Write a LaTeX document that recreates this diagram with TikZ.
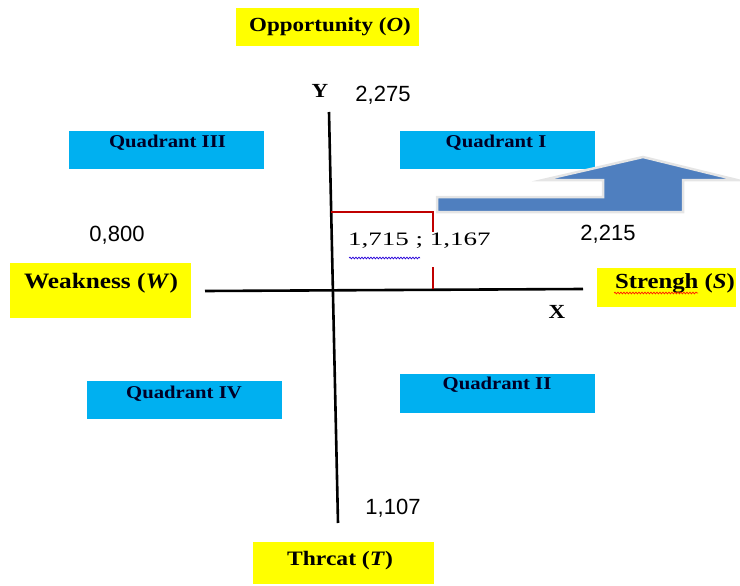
\documentclass[tikz,border=0pt]{standalone}
\usepackage{fontspec}
\setmainfont{Liberation Serif}
\newfontfamily\lblfont{Liberation Serif}[FakeStretch=1.15]
\newfontfamily\ptfont{Liberation Serif}[FakeStretch=1.42]
\newfontfamily\numfont{Liberation Sans}
\usetikzlibrary{decorations.pathmorphing}
\definecolor{ybox}{HTML}{FFFF00}
\definecolor{qblue}{HTML}{00B0F0}
\definecolor{arrblue}{HTML}{4F7FBF}
\definecolor{redl}{HTML}{C00000}
\tikzset{
  ylbox/.style={fill=ybox, draw=none, inner sep=0pt},
  qbox/.style={fill=qblue, draw=none, inner sep=0pt, minimum width=195pt, minimum height=38pt},
  lbl/.style={font=\lblfont\bfseries\fontsize{#1}{#1}\selectfont, inner sep=0pt, anchor=base},
  lbl/.default=20,
  qlbl/.style={font=\lblfont\bfseries\fontsize{18}{18}\selectfont, inner sep=0pt, anchor=base, text=black!85!blue},
  num/.style={font=\numfont\fontsize{22}{22}\selectfont, inner sep=0pt, anchor=base},
  axis/.style={line width=2.6pt, black},
  redline/.style={line width=2.4pt, redl},
  spell/.style={line width=0.7pt, decorate, decoration={snake, amplitude=0.9pt, segment length=3pt}},
}
\begin{document}
\begin{tikzpicture}[x=1pt,y=-1pt]
\useasboundingbox (0,0) rectangle (740,586);
% yellow boxes
\node[ylbox, minimum width=183pt, minimum height=38pt] (obox) at (327.5,27) {};
\node[lbl=20] (otext) at (330,32) {Opportunity (\textit{O})};
\node[ylbox, minimum width=181pt, minimum height=55pt] (wbox) at (100.5,290.5) {};
\node[lbl=22] (wtext) at (101,288) {Weakness (\textit{W})};
\node[ylbox, minimum width=139pt, minimum height=39pt] (sbox) at (666.5,287.5) {};
\node[lbl=21.5] (stext) at (675,288) {Strengh (\textit{S})};
\node[ylbox, minimum width=181pt, minimum height=42pt] (tbox) at (343.5,563) {};
\node[lbl=20.5] (ttext) at (340,565) {Thrcat (\textit{T})};
% quadrant boxes
\node[qbox] (q3) at (166.5,150) {};
\node[qlbl] (q3t) at (167.5,147) {Quadrant III};
\node[qbox] (q1) at (497,150) {};
\node[qlbl] (q1t) at (496,147) {Quadrant I};
\node[qbox] (q4) at (184.5,400) {};
\node[qlbl] (q4t) at (184,398) {Quadrant IV};
\node[qbox, minimum height=39pt] (q2) at (497.5,393.5) {};
\node[qlbl] (q2t) at (497,389) {Quadrant II};
% bent arrow
\filldraw[fill=arrblue, draw=gray!20, line width=2.5pt, line join=miter]
  (437,197) -- (603,197) -- (603,180) -- (543,180) -- (643,157) -- (737,180)
  -- (683,180) -- (683,212) -- (437,212) -- cycle;
% axes
\coordinate (ytop) at (329,112);
\coordinate (ybot) at (338,523);
\coordinate (xl) at (205,291);
\coordinate (xr) at (583,289);
\draw[axis] (ytop) -- (ybot);
\draw[axis] (xl) -- (xr);
% red lines
\coordinate (ra) at (331,212);
\coordinate (rb) at (433,212);
\coordinate (rb2) at (433,232);
\coordinate (rc1) at (433,267);
\coordinate (rc) at (433,289);
\draw[redline] (ra) -- (rb) -- (rb2);
\draw[redline] (rc1) -- (rc);
% labels
\node[font=\lblfont\bfseries\fontsize{20}{20}\selectfont, inner sep=0pt, anchor=base] (ylab) at (320,98) {Y};
\node[font=\lblfont\bfseries\fontsize{20}{20}\selectfont, inner sep=0pt, anchor=base] (xlab) at (557,318) {X};
\node[num] (n2275) at (383,102) {2,275};
\node[num] (n0800) at (117,241) {0,800};
\node[num] (n2215) at (608,240) {2,215};
\node[num] (n1107) at (393,514) {1,107};
\node[font=\ptfont\fontsize{19}{19}\selectfont, inner sep=0pt, anchor=base west] (pt) at (348,245) {1,715 ; 1,167};
% spell-check underlines
\coordinate (u1a) at (349,258);
\coordinate (u1b) at (420,258);
\draw[spell, blue!70!violet] (u1a) -- (u1b);
\coordinate (u2a) at (614,293);
\coordinate (u2b) at (698,293);
\draw[spell, red!80!orange] (u2a) -- (u2b);
\end{tikzpicture}
\end{document}
